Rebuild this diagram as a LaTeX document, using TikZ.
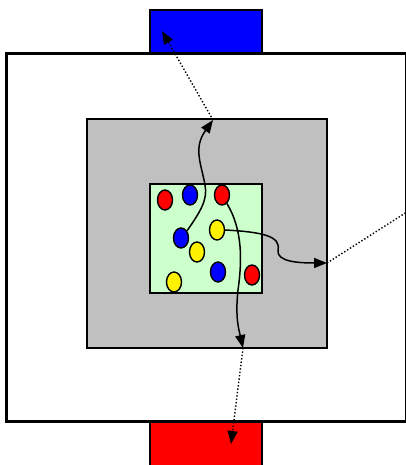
\documentclass[tikz,border=0pt]{standalone}
\usetikzlibrary{shapes.geometric,arrows.meta}
\definecolor{grayfill}{RGB}{192,192,192}
\definecolor{greenfill}{RGB}{204,255,204}
\begin{document}
\begin{tikzpicture}[x=1pt,y=-1pt,
  box/.style={draw=black,line width=1.4pt,inner sep=0pt,outer sep=0pt},
  ball/.style={ellipse,draw=black,line width=1.4pt,minimum width=15pt,minimum height=20pt,inner sep=0pt},
  flow/.style={line width=1.5pt,-{Triangle[length=13pt,width=10pt]}},
  dots/.style={line width=1.4pt,dash pattern=on 1.4pt off 2pt,-{Triangle[length=13pt,width=10pt]}}]
\useasboundingbox (0,0) rectangle (405,465);
% boxes
\node[box,fill=blue,minimum width=112pt,minimum height=44pt,anchor=north west] (bluebox) at (150,10) {};
\node[box,fill=red,minimum width=112pt,minimum height=48pt,anchor=north west] (redbox) at (150,421) {};
\node[draw=black,line width=3pt,minimum width=400pt,minimum height=368pt,anchor=north west,inner sep=0pt,outer sep=0pt] (outer) at (6.5,53.5) {};
\node[box,fill=grayfill,minimum width=240pt,minimum height=229pt,anchor=north west] (gray) at (87,119) {};
\node[box,fill=greenfill,minimum width=112pt,minimum height=109pt,anchor=north west] (green) at (150,184) {};
% balls
\node[ball,fill=red] (c1) at (165,200) {};
\node[ball,fill=blue] (c2) at (190,195) {};
\node[ball,fill=red] (c3) at (222,195) {};
\node[ball,fill=blue] (c4) at (181,238) {};
\node[ball,fill=yellow] (c5) at (217,230) {};
\node[ball,fill=yellow] (c6) at (197,252) {};
\node[ball,fill=blue] (c7) at (218,272) {};
\node[ball,fill=red] (c8) at (252,275) {};
\node[ball,fill=yellow] (c9) at (174,282) {};
% exit points
\coordinate (p1) at (213,120);
\coordinate (p2) at (327,263);
\coordinate (p3) at (243,348);
\coordinate (q1) at (162,31);
\coordinate (q2) at (410,210);
\coordinate (q3) at (231,444);
% paths
\draw[flow] (c4.50) .. controls (200,212) and (208,200) .. (205,185) .. controls (201,163) and (193,148) .. (p1);
\draw[flow] (c5.east) .. controls (262,232) and (281,236) .. (278,250) .. controls (276,262) and (300,263) .. (p2);
\draw[flow] (c3.-60) .. controls (243,230) and (242,262) .. (238,290) .. controls (235,318) and (239,330) .. (p3);
\draw[dots] (p1) -- (q1);
\draw[line width=1.4pt,dash pattern=on 1.4pt off 2pt] (p2) -- (q2);
\draw[dots] (p3) -- (q3);
\end{tikzpicture}
\end{document}
